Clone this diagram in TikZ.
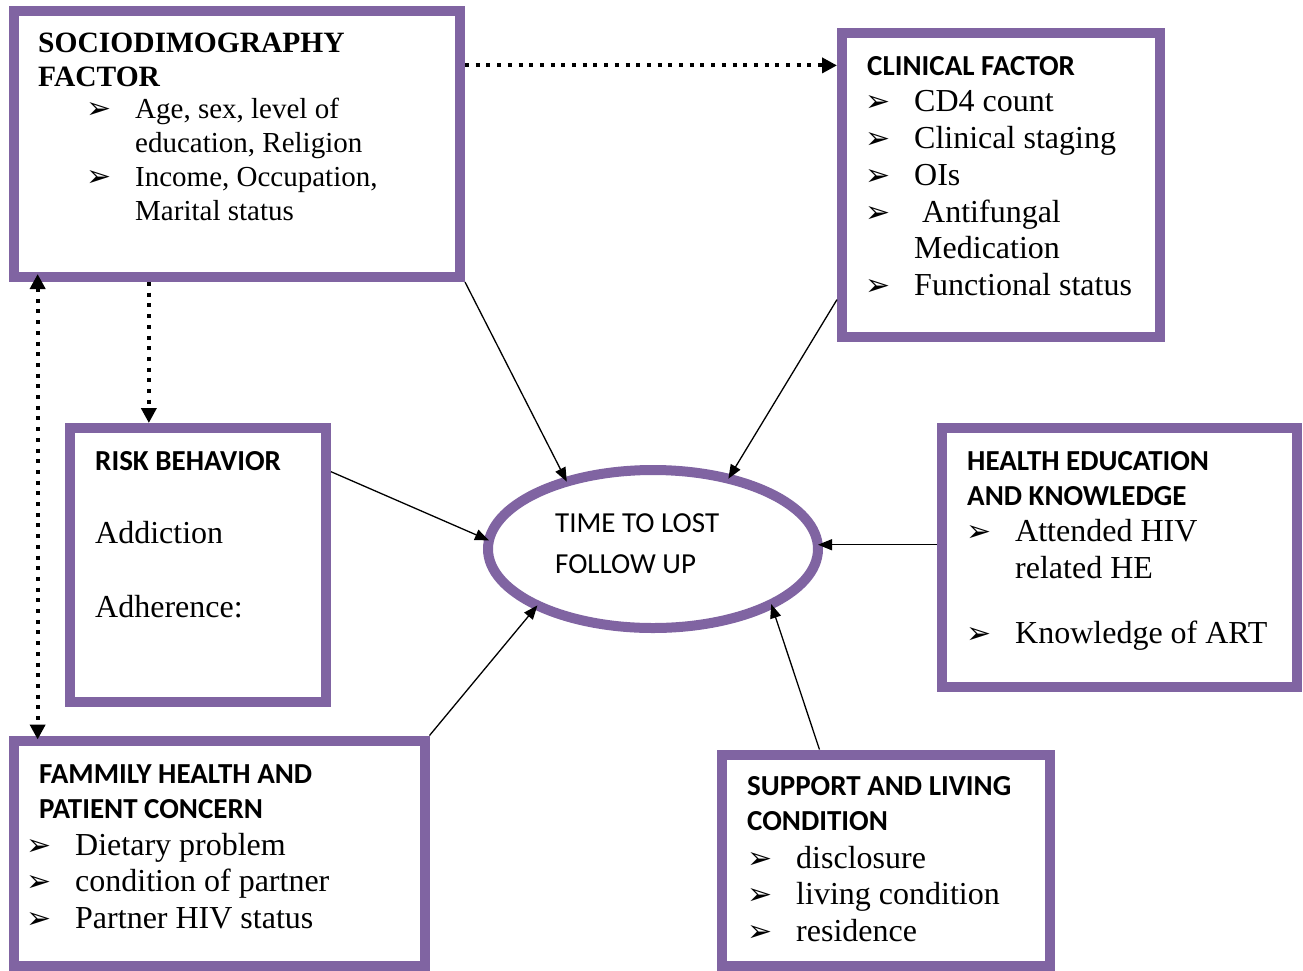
\documentclass[tikz,border=0pt]{standalone}
\usepackage{fontspec}
\setmainfont{Liberation Serif}
\newfontfamily\calfont{Carlito}
\newfontfamily\dvfont{DejaVu Sans}
\usetikzlibrary{shapes.geometric,arrows.meta}
\definecolor{boxpurple}{RGB}{128,100,162}
\newcommand{\blt}{\makebox[46pt][l]{\hspace*{-3pt}\dvfont\fontsize{30}{30}\selectfont ➢}}
\newcommand{\bltskip}{\hspace*{46pt}}

\begin{document}
\begin{tikzpicture}[x=1pt,y=-1pt]
\tikzstyle{box} = [draw=boxpurple, line width=10pt, fill=white, inner sep=0pt]
\tikzstyle{ell} = [ellipse, draw=boxpurple, line width=10pt, fill=white, inner sep=0pt, outer sep=0pt]
\tikzstyle{hd} = [anchor=base west, inner sep=0pt, text width=420pt, align=flush left, font=\calfont\fontsize{29}{35}\selectfont\bfseries]
\tikzstyle{txt} = [anchor=base west, inner sep=0pt, text width=420pt, align=flush left, font=\fontsize{32}{36.8}\selectfont]
\tikzstyle{arr} = [line width=1.3pt, -{Triangle[length=14pt,width=11pt]}]
\tikzstyle{dotarr} = [line width=4pt, dash pattern=on 4pt off 6.7pt, -{Triangle[length=15pt,width=15pt]}]
\useasboundingbox (0,0) rectangle (1303,970);

% boxes
\node [box, minimum width=446.5pt, minimum height=266pt] (soc) at (236.75,144) {};
\node [box, minimum width=318pt, minimum height=304.5pt] (clin) at (1001,184.75) {};
\node [box, minimum width=256.5pt, minimum height=274pt] (risk) at (197.75,565) {};
\node [box, minimum width=355pt, minimum height=259pt] (hek) at (1119.5,557.5) {};
\node [box, minimum width=411pt, minimum height=225.5pt] (fam) at (219,853.25) {};
\node [box, minimum width=328pt, minimum height=211.5pt] (sup) at (886,860.25) {};
\node [ell, minimum width=330pt, minimum height=158pt] (tlf) at (653,549) {};

% texts
\node [hd, font=\fontsize{29.5}{34}\selectfont\bfseries] (sochd) at (38,52) {SOCIODIMOGRAPHY\\FACTOR};
\node [txt, font=\fontsize{29}{34}\selectfont] (soclst) at (89,118) {\blt Age, sex, level of\\ \bltskip education, Religion\\ \blt Income, Occupation,\\ \bltskip Marital status};

\node [hd] (clinhd) at (867,75) {CLINICAL FACTOR};
\node [txt] (clinlst) at (868,111.7) {\blt CD4 count\\ \blt Clinical staging\\ \blt OIs\\ \blt\ Antifungal\\ \bltskip Medication\\ \blt Functional status};

\node [hd] (riskhd) at (95,470) {RISK BEHAVIOR};
\node [txt] (risk1) at (95,543) {Addiction};
\node [txt] (risk2) at (95,617) {Adherence:};

\node [hd] (hekhd) at (967,470) {HEALTH EDUCATION\\AND KNOWLEDGE};
\node [txt] (heklst) at (969,541.7) {\blt Attended HIV\\ \bltskip related HE\\[28pt] \blt Knowledge of ART};

\node [hd] (famhd) at (39,783) {FAMMILY HEALTH AND\\PATIENT CONCERN};
\node [txt] (famlst) at (29,855) {\blt Dietary problem\\ \blt condition of partner\\ \blt Partner HIV status};

\node [hd] (suphd) at (747,795) {SUPPORT AND LIVING\\CONDITION};
\node [txt] (suplst) at (750,868) {\blt disclosure\\ \blt living condition\\ \blt residence};

\node [hd, font=\calfont\fontsize{29}{41}\selectfont] (tlftxt) at (555,532) {TIME TO LOST\\FOLLOW UP};

% connectors
\draw [arr] (soc.south east) -- (tlf.142.5);
\draw [arr] (clin.215) -- (tlf.43.3);
\draw [arr] (risk.35) -- (tlf.177.6);
\draw [arr] (hek.176) -- (hek.176 -| tlf.east);
\draw [arr] (fam.north east) -- (tlf.206.8);
\draw [arr] (sup.121.5) -- (tlf.335.2);

\draw [dotarr] (soc.19) -- (soc.19 -| clin.west);
\draw [dotarr] (soc.south -| risk.109) -- (risk.109);
\draw [dotarr, {Triangle[length=15pt,width=15pt]}-{Triangle[length=15pt,width=15pt]}, shorten <=-8pt, shorten >=-4pt] (soc.south -| fam.147) -- (fam.147);
\end{tikzpicture}
\end{document}
